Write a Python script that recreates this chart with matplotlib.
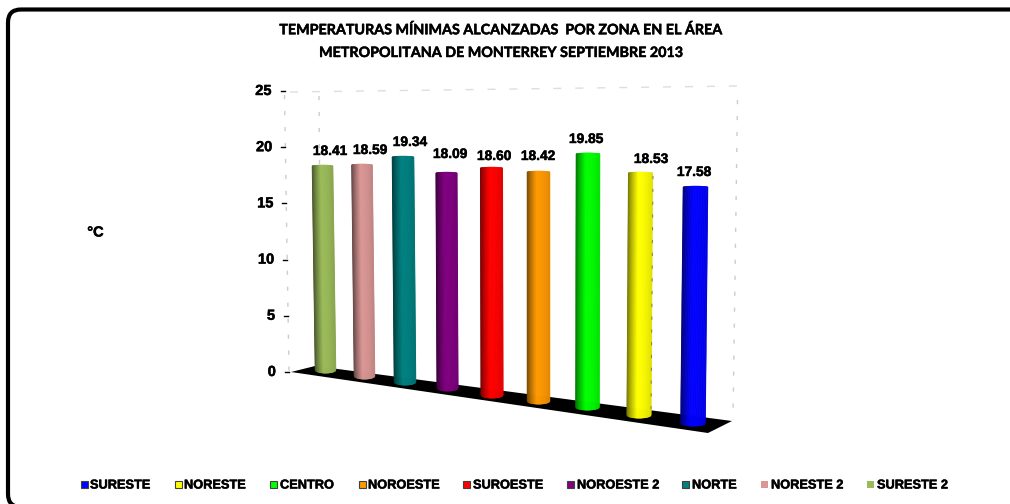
import matplotlib
matplotlib.use('Agg')
import matplotlib.pyplot as plt
import matplotlib.patheffects as pe
from matplotlib.patches import FancyBboxPatch, Polygon, Rectangle
import numpy as np

# drawing order, back to front
zones = ['SURESTE 2', 'NORESTE 2', 'NORTE', 'NOROESTE 2', 'SUROESTE',
         'NOROESTE', 'CENTRO', 'NORESTE', 'SURESTE']
temps = [18.41, 18.59, 19.34, 18.09, 18.60, 18.42, 19.85, 18.53, 17.58]
temp_labels = ['18.41', '18.59', '19.34', '18.09', '18.60', '18.42', '19.85', '18.53', '17.58']
colors = ['#9BBB59', '#D99694', '#008080', '#800080', '#FF0000',
          '#FF9900', '#00FF00', '#FFFF00', '#0000FF']
y_ticks = [0, 5, 10, 15, 20, 25]
title_lines = ['TEMPERATURAS MÍNIMAS ALCANZADAS  POR ZONA EN EL ÁREA',
               'METROPOLITANA DE MONTERREY SEPTIEMBRE 2013']

# fake 3d layout: every bar has its own base point and px-per-degree
bar_base_x = [325.5, 364.5, 405, 447.5, 492, 538.5, 587.5, 639, 693]
bar_top_x = [322.5, 362, 403, 446.5, 491.5, 538.5, 588, 640.5, 695.5]
bar_base_y = [370, 376, 382, 388, 395, 401, 407, 415, 423]
bar_scale = [11.08, 11.35, 11.63, 11.88, 12.20, 12.43, 12.75, 13.06, 13.42]
bar_width = [21, 21, 22, 21.5, 22.5, 23, 24, 24.5, 25]
label_pos = [(330, 151), (370, 150), (410, 142), (450, 154), (494, 156),
             (538, 156), (586, 139), (651, 159), (694, 172)]

# legend order and x position of the swatch
legend_order = ['SURESTE', 'NORESTE', 'CENTRO', 'NOROESTE', 'SUROESTE',
                'NOROESTE 2', 'NORTE', 'NORESTE 2', 'SURESTE 2']
legend_x = [81, 175, 270, 359, 463, 567, 682, 761, 867]
legend_text_x = [90, 184, 280, 368, 473, 577, 692, 771, 877]

BOLD = 'Liberation Sans'
heavy = [pe.withStroke(linewidth=0.35, foreground='black')]

fig = plt.figure(figsize=(10.1, 5.04), dpi=100)
ax = fig.add_axes([0, 0, 1, 1])
ax.set_xlim(0, 1010)
ax.set_ylim(504, 0)
ax.axis('off')

# rounded frame, runs off the right and bottom of the picture
ax.add_patch(FancyBboxPatch((8, 9.5), 1100, 497.5, boxstyle='round,pad=0,rounding_size=13',
                            fc='white', ec='black', lw=3.0, zorder=0))


def axis_x(v):
    # left axis leans a little to the left going up
    return 289 - 4.5 * v / 25


def axis_y(v):
    return 372 - 11.24 * v


# back wall
dash = (0, (5.8, 10))
dots = (0, (3, 8.5))
ax.plot([290, 738], [92, 86], color='#dedede', lw=1.0, ls=dash, zorder=1)
ax.plot([axis_x(25), axis_x(0)], [axis_y(25) + 4, axis_y(0)], color='#cccccc', lw=1.0, ls=dots, zorder=1)
ax.plot([319, 321], [96, 366], color='#cccccc', lw=1.0, ls=dots, zorder=1)
ax.plot([737.5, 733], [100, 420], color='#cccccc', lw=1.0, ls=dots, zorder=1)

# floor
ax.add_patch(Polygon([(291, 372), (315, 366), (732, 421), (708, 433)], fc='black', ec='none', zorder=2))

# y ticks
for v in y_ticks:
    ax.plot([axis_x(v) - 4, axis_x(v)], [axis_y(v), axis_y(v)], color='black', lw=1.0, zorder=3)
    ax.text(axis_x(v) - 13, axis_y(v), str(v), ha='right', va='center', family=BOLD,
            fontweight='bold', fontsize=10.5, zorder=3, path_effects=heavy)


def shade(color, t):
    # cylinder look: dark left edge, bright from 40% across, a bit darker on the right
    rgb = np.array(matplotlib.colors.to_rgb(color))
    if t < 0.42:
        k = 0.42 + 0.58 * (t / 0.42) ** 0.8
    else:
        k = 1 - 0.12 * ((t - 0.42) / 0.58) ** 2
    return tuple(rgb * k)


# bars as thin vertical strips, each with the round base
n_strips = 40
for i, v in enumerate(temps):
    w = bar_width[i]
    top_y = bar_base_y[i] - v * bar_scale[i]
    for s in range(n_strips):
        t0, t1 = s / n_strips, (s + 1) / n_strips
        tm = (t0 + t1) / 2
        curve0 = 3.2 * np.sqrt(1 - (2 * t0 - 1) ** 2)
        curve1 = 3.2 * np.sqrt(1 - (2 * t1 - 1) ** 2)
        cap0 = 1.0 * np.sqrt(1 - (2 * t0 - 1) ** 2)
        cap1 = 1.0 * np.sqrt(1 - (2 * t1 - 1) ** 2)
        pts = [(bar_top_x[i] - w / 2 + w * t0, top_y - cap0),
               (bar_top_x[i] - w / 2 + w * t1, top_y - cap1),
               (bar_base_x[i] - w / 2 + w * t1, bar_base_y[i] + curve1),
               (bar_base_x[i] - w / 2 + w * t0, bar_base_y[i] + curve0)]
        c = shade(colors[i], tm)
        ax.add_patch(Polygon(pts, fc=c, ec=c, lw=0.35, zorder=4 + i * 0.01))
    ax.text(label_pos[i][0], label_pos[i][1], temp_labels[i], ha='center', va='center', family=BOLD,
            fontweight='bold', fontsize=9.9, zorder=6, path_effects=heavy)

# gridline that shows through on the yellow bar's edge
ax.plot([653, 651], [176, 412], color='#8a8a50', lw=0.8, ls=dots, zorder=5)

# title and unit
ax.text(499.5, 30, title_lines[0], ha='center', va='center', family='Lato', fontweight='bold',
        fontsize=10.3, path_effects=heavy)
ax.text(500, 53, title_lines[1], ha='center', va='center', family='Lato', fontweight='bold',
        fontsize=10.3, path_effects=heavy)
ax.text(95.5, 232.5, '°C', ha='center', va='center', family=BOLD, fontweight='bold', fontsize=10.5,
        path_effects=heavy)

# legend
for name, sx, tx in zip(legend_order, legend_x, legend_text_x):
    c = colors[zones.index(name)]
    edge = 'none' if name in ('NORESTE 2', 'SURESTE 2') else '#404040'
    ax.add_patch(Rectangle((sx, 481), 7, 7, fc=c, ec=edge, lw=0.8, zorder=3))
    ax.text(tx, 485.5, name, ha='left', va='center', family=BOLD, fontweight='bold', fontsize=9.2,
            path_effects=heavy)

fig.savefig('out.png', dpi=100)
